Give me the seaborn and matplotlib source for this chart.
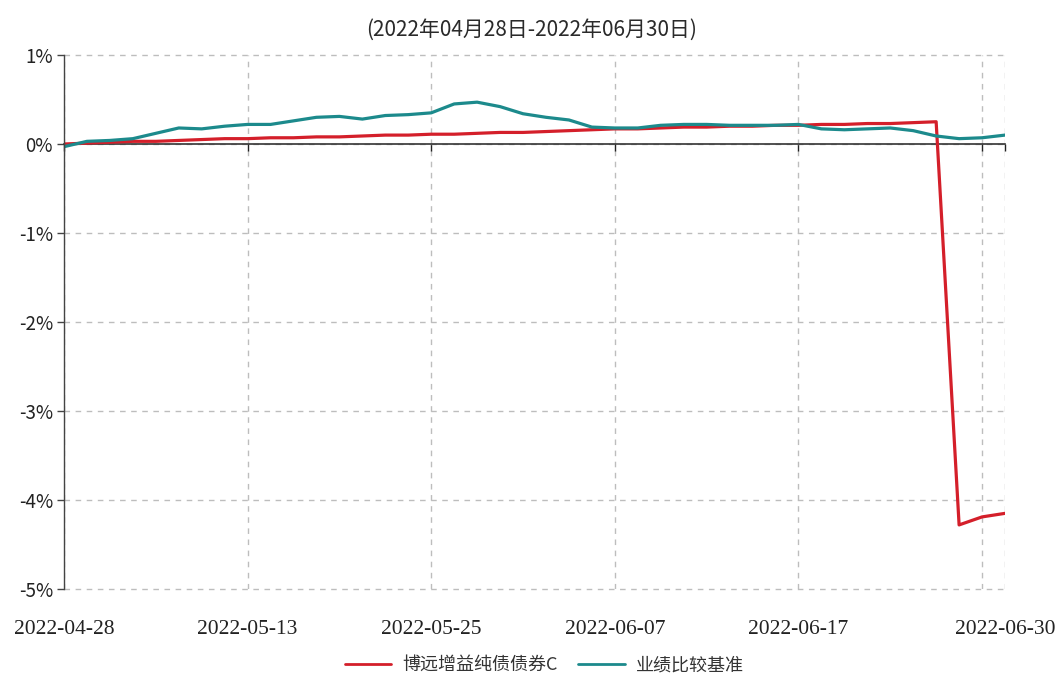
import matplotlib
matplotlib.use("Agg")
import matplotlib.pyplot as plt
import seaborn as sns
import pandas as pd
from matplotlib.ticker import FuncFormatter
from matplotlib.lines import Line2D

dates = ["2022-04-28", "2022-04-29", "2022-05-05", "2022-05-06", "2022-05-09", "2022-05-10",
         "2022-05-11", "2022-05-12", "2022-05-13", "2022-05-16", "2022-05-17", "2022-05-18",
         "2022-05-19", "2022-05-20", "2022-05-23", "2022-05-24", "2022-05-25", "2022-05-26",
         "2022-05-27", "2022-05-30", "2022-05-31", "2022-06-01", "2022-06-02", "2022-06-06",
         "2022-06-07", "2022-06-08", "2022-06-09", "2022-06-10", "2022-06-13", "2022-06-14",
         "2022-06-15", "2022-06-16", "2022-06-17", "2022-06-20", "2022-06-21", "2022-06-22",
         "2022-06-23", "2022-06-24", "2022-06-27", "2022-06-28", "2022-06-29", "2022-06-30"]

fund_name = "博远增益纯债债券C"
bench_name = "业绩比较基准"

fund = [0.00, 0.01, 0.02, 0.03, 0.03, 0.04, 0.05, 0.06, 0.06, 0.07, 0.07, 0.08,
        0.08, 0.09, 0.10, 0.10, 0.11, 0.11, 0.12, 0.13, 0.13, 0.14, 0.15, 0.16,
        0.17, 0.17, 0.18, 0.19, 0.19, 0.20, 0.20, 0.21, 0.21, 0.22, 0.22, 0.23,
        0.23, 0.24, 0.25, -4.28, -4.19, -4.15]

bench = [-0.03, 0.03, 0.04, 0.06, 0.12, 0.18, 0.17, 0.20, 0.22, 0.22, 0.26, 0.30,
         0.31, 0.28, 0.32, 0.33, 0.35, 0.45, 0.47, 0.42, 0.34, 0.30, 0.27, 0.19,
         0.18, 0.18, 0.21, 0.22, 0.22, 0.21, 0.21, 0.21, 0.22, 0.17, 0.16, 0.17,
         0.18, 0.15, 0.09, 0.06, 0.07, 0.10]

y_ticks = [1, 0, -1, -2, -3, -4, -5]
x_tick_idx = [0, 8, 16, 24, 32, 40, 41]
x_tick_labels = ["2022-04-28", "2022-05-13", "2022-05-25", "2022-06-07", "2022-06-17", "", "2022-06-30"]

subtitle = "(2022年04月28日-2022年06月30日)"

sns.set_theme(style="white")
plt.rcParams['font.family'] = ['Noto Sans CJK SC', 'DejaVu Sans']

n = len(dates)
df = pd.DataFrame({
    "idx": list(range(n)) * 2,
    "date": dates * 2,
    "value": fund + bench,
    "series": [fund_name] * n + [bench_name] * n,
})

fig = plt.figure(figsize=(10.58, 6.82), dpi=100)
W, H = 1058, 682
ax = fig.add_axes([64 / W, 1 - 589 / H, (1005 - 64) / W, (589 - 55) / H])

palette = {fund_name: "#d41f2a", bench_name: "#1c8a8c"}
sns.lineplot(data=df, x="idx", y="value", hue="series", palette=palette,
             linewidth=2.3, ax=ax, legend=False, sort=False)

ax.set_xlim(0, n - 1)
ax.set_ylim(-5, 1)
ax.set_yticks(y_ticks)
ax.yaxis.set_major_formatter(FuncFormatter(lambda v, p: f"{int(round(v))}%"))
ax.set_xticks(x_tick_idx)
ax.set_xticklabels(x_tick_labels)
ax.set_xlabel("")
ax.set_ylabel("")

ax.grid(True, linestyle=(0, (4, 4)), color="#bdbdbd", linewidth=1.0)
for gl in ax.get_xgridlines() + ax.get_ygridlines():
    gl.set_clip_on(False)
ax.set_axisbelow(True)
for s in ["top", "right"]:
    ax.spines[s].set_visible(False)
ax.spines["left"].set_color("#444444")
ax.spines["left"].set_linewidth(1.0)
ax.spines["bottom"].set_position(("data", 0))
ax.spines["bottom"].set_color("#333333")
ax.spines["bottom"].set_linewidth(1.2)
ax.spines["bottom"].set_zorder(1)

ax.tick_params(axis="y", which="major", left=True, length=5, width=1, color="#444444",
               labelsize=13.5, labelcolor="#222222", pad=3)
ax.tick_params(axis="x", which="major", bottom=True, length=5, width=1, color="#222222",
               pad=338)
for lab in ax.get_xticklabels():
    lab.set_fontfamily("Liberation Serif")
    lab.set_fontsize(15.5)
    lab.set_color("#222222")

fig.text(532 / W, 1 - 30 / H, subtitle, ha="center", va="center", fontsize=15, color="#2a2a2a")

handles = [Line2D([0], [0], color=palette[fund_name], lw=2),
           Line2D([0], [0], color=palette[bench_name], lw=2)]
fig.legend(handles, [fund_name, bench_name], loc="center", bbox_to_anchor=(544 / W, 1 - 665 / H),
           ncol=2, frameon=False, fontsize=13, handlelength=2.6, columnspacing=1.1,
           handletextpad=0.6, labelcolor="#333333")

fig.savefig("out.png", dpi=100)
